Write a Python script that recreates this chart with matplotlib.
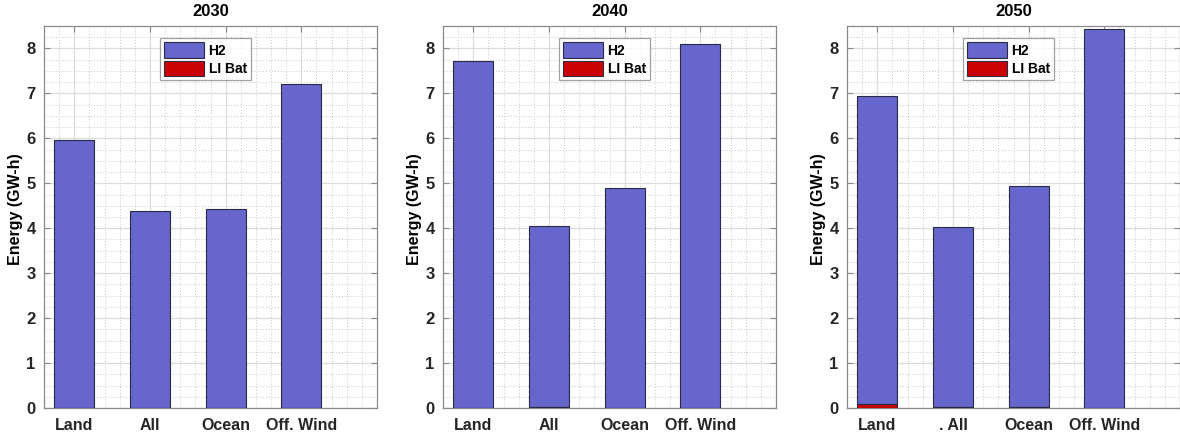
#! /usr/bin/env python3

# Storage energy by siting case, stacked H2 / Li-ion battery, three target years

import numpy as np
import matplotlib
matplotlib.use("Agg")
import matplotlib.pyplot as plt
from matplotlib.ticker import MultipleLocator

years = ["2030", "2040", "2050"]
cases = ["Land", "All", "Ocean", "Off. Wind"]

# energy in GW-h
li_bat = {
    "2030": [0.0, 0.0, 0.0, 0.0],
    "2040": [0.0, 0.02, 0.0, 0.0],
    "2050": [0.08, 0.03, 0.02, 0.0],
}
h2 = {
    "2030": [5.97, 4.38, 4.42, 7.21],
    "2040": [7.73, 4.02, 4.89, 8.10],
    "2050": [6.86, 3.99, 4.91, 8.43],
}

H2_COLOR = "#6666cc"
BAT_COLOR = "#cc0000"
EDGE = "#2a2a44"
AXIS_GRAY = "#8a8a8a"

plt.rcParams["font.family"] = ["Liberation Sans", "DejaVu Sans"]
plt.rcParams["font.weight"] = "bold"


def main():
    fig = plt.figure(figsize=(11.8, 4.36), dpi=100)
    lefts = [44, 443, 847]
    axes = []
    for l in lefts:
        axes.append(fig.add_axes([l / 1180, 28 / 436, 333 / 1180, 382 / 436]))

    x = np.arange(1, len(cases) + 1)
    for ax, yr in zip(axes, years):
        bat = np.array(li_bat[yr])
        hy = np.array(h2[yr])
        ax.bar(x, hy, width=0.53, bottom=bat, color=H2_COLOR, edgecolor=EDGE,
               linewidth=0.8, label="H2", zorder=3)
        ax.bar(x, bat, width=0.53, color=BAT_COLOR, edgecolor=EDGE,
               linewidth=0.8, label="LI Bat", zorder=3)

        ax.set_xlim(0.6, 5.0)
        ax.set_ylim(0, 8.5)
        ax.set_xticks(x)
        labels = list(cases)
        if yr == "2050":
            labels[1] = ". All"
        ax.set_xticklabels(labels, fontsize=11.5, fontweight="bold", color="#262626")
        ax.set_yticks(range(0, 9))
        ax.set_yticklabels([str(v) for v in range(0, 9)], fontsize=12,
                           fontweight="bold", color="#262626")
        ax.xaxis.set_minor_locator(MultipleLocator(0.2))
        ax.yaxis.set_minor_locator(MultipleLocator(0.25))
        ax.grid(True, which="major", color="#dcdcdc", linewidth=0.9, zorder=0)
        ax.grid(True, which="minor", color="#c8c8c8", linestyle=(0, (1, 2)),
                linewidth=0.7, zorder=0)
        ax.tick_params(which="major", direction="in", length=4, width=0.8,
                       color=AXIS_GRAY, top=True, right=True)
        ax.tick_params(axis="x", which="major", pad=7)
        ax.tick_params(axis="y", which="major", pad=6)
        ax.tick_params(which="minor", length=0)
        for s in ax.spines.values():
            s.set_color(AXIS_GRAY)
            s.set_linewidth(0.9)
        ax.set_axisbelow(True)

        ax.set_title(yr, fontsize=12, fontweight="bold", pad=7)
        ax.set_ylabel("Energy (GW-h)", fontsize=11.5, fontweight="bold")
        ax.yaxis.set_label_coords(-0.063, 0.52)

        leg = ax.legend(loc="upper center", bbox_to_anchor=(0.485, 0.968),
                        fontsize=10, frameon=True, fancybox=False, shadow=False,
                        handlelength=2.9, handleheight=1.3, handletextpad=0.3,
                        borderpad=0.3, labelspacing=0.25, borderaxespad=0)
        leg.get_frame().set_edgecolor(AXIS_GRAY)
        leg.get_frame().set_linewidth(0.9)
        for t in leg.get_texts():
            t.set_fontweight("bold")

    fig.savefig("out.png", dpi=100)
    plt.close(fig)


if __name__ == '__main__':
    main()
